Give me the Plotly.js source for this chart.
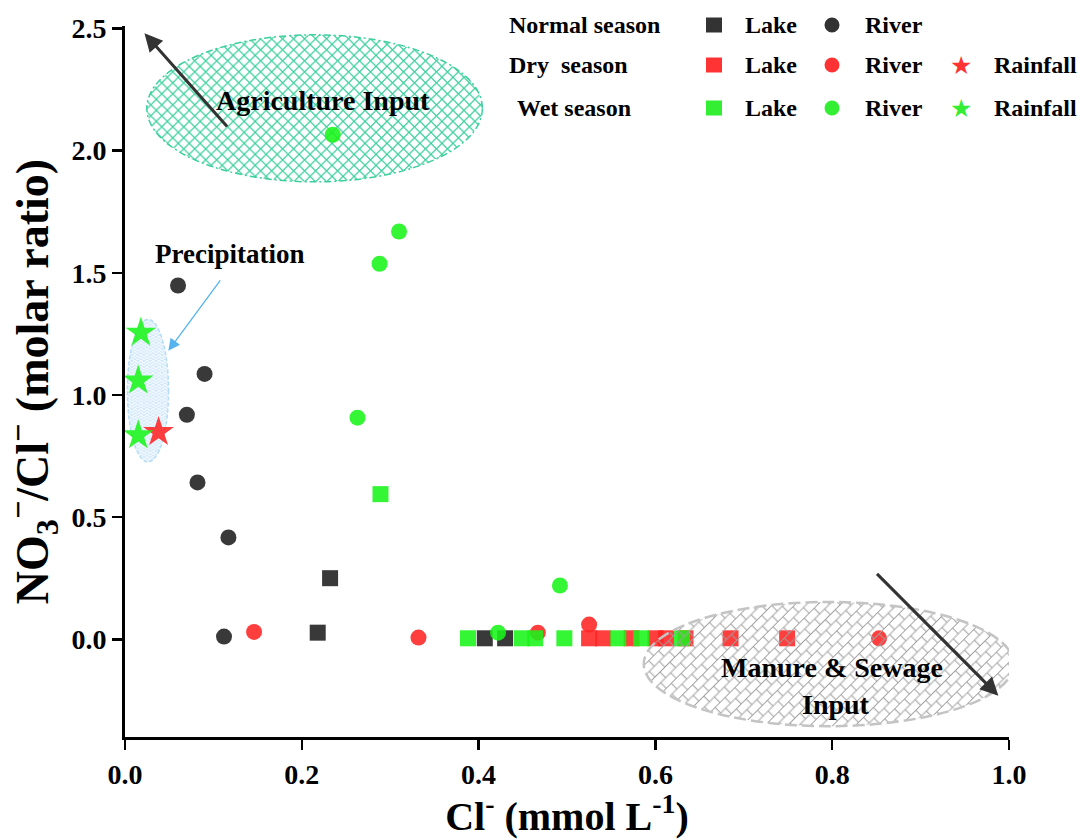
<!DOCTYPE html>
<html>
<head>
<meta charset="utf-8">
<script src="https://cdn.plot.ly/plotly-3.0.1.min.js"></script>
<style>html,body{margin:0;padding:0;background:#fff;}#chart{width:1086px;height:839px;}</style>
</head>
<body>
<div id="chart"></div>
<script>
// ---------------- data ----------------
const normalLakeX = [0.218, 0.232, 0.407, 0.430];
const normalLakeY = [0.027, 0.250, 0.004, 0.004];
const normalRiverX = [0.060, 0.070, 0.082, 0.090, 0.112, 0.117];
const normalRiverY = [1.448, 0.919, 0.642, 1.086, 0.011, 0.417];

const dryLakeX = [0.525, 0.541, 0.573, 0.600, 0.612, 0.634, 0.685, 0.749];
const dryLakeY = [0.004, 0.004, 0.004, 0.004, 0.004, 0.004, 0.004, 0.004];
const dryRiverX = [0.146, 0.332, 0.467, 0.525, 0.853];
const dryRiverY = [0.030, 0.007, 0.027, 0.060, 0.004];
const dryRainX = [0.038];
const dryRainY = [0.848];

const wetLakeX = [0.289, 0.388, 0.449, 0.464, 0.497, 0.558, 0.584, 0.630];
const wetLakeY = [0.594, 0.004, 0.004, 0.004, 0.004, 0.004, 0.004, 0.004];
const wetRiverX = [0.235, 0.263, 0.288, 0.310, 0.422, 0.492];
const wetRiverY = [2.065, 0.907, 1.537, 1.669, 0.027, 0.220];
const wetRainX = [0.018, 0.015, 0.015];
const wetRainY = [1.255, 1.059, 0.835];

const xTickVals = [0, 0.2, 0.4, 0.6, 0.8, 1.0];
const xTickText = ['0.0', '0.2', '0.4', '0.6', '0.8', '1.0'];
const yTickVals = [0, 0.5, 1.0, 1.5, 2.0, 2.5];
const yTickText = ['0.0', '0.5', '1.0', '1.5', '2.0', '2.5'];

const legendRows = ['Normal season', 'Dry\u00a0 season', 'Wet season'];

// ---------------- style ----------------
const FONT = 'Liberation Serif';
const C_DARK = 'rgba(40,40,40,0.92)';
const C_RED = 'rgba(255,35,35,0.88)';
const C_GREEN = 'rgba(25,245,25,0.88)';
const C_DARK_L = '#333333';
const C_RED_L = '#ff3333';
const C_GREEN_L = '#33ee33';

const W = 1086, H = 839;
const M = {l: 125, r: 77, t: 26, b: 102};
const XR = [0, 1.0], YR = [-0.40, 2.51];
const PW = W - M.l - M.r, PH = H - M.t - M.b;
const pxX = p => (p - M.l) / PW;          // pixel -> paper
const pxY = p => (H - M.b - p) / PH;
const dx2px = d => d / (XR[1] - XR[0]) * PW;
const dy2px = d => d / (YR[1] - YR[0]) * PH;

function sc(x, y, sym, size, color) {
  return {x: x, y: y, type: 'scatter', mode: 'markers', hoverinfo: 'skip', cliponaxis: false,
    marker: {symbol: sym, size: size, color: color, line: {width: 0}}, showlegend: false};
}
const traces = [
  sc(dryLakeX, dryLakeY, 'square', 16, C_RED),
  sc(dryRiverX, dryRiverY, 'circle', 16, C_RED),
  sc(normalLakeX, normalLakeY, 'square', 16, C_DARK),
  sc(normalRiverX, normalRiverY, 'circle', 16, C_DARK),
  sc(wetLakeX, wetLakeY, 'square', 16, C_GREEN),
  sc(wetRiverX, wetRiverY, 'circle', 16, C_GREEN),
  sc(dryRainX, dryRainY, 'star', 23, C_RED),
  sc(wetRainX, wetRainY, 'star', 23, C_GREEN)
];

// ---------------- decorative ellipses (SVG images) ----------------
function ellipseImage(x0, x1, y0, y1, patternSvg, stroke, strokeW, dash, layer) {
  const w = Math.round(dx2px(x1 - x0)), h = Math.round(dy2px(y1 - y0));
  const svg = "<svg xmlns='http://www.w3.org/2000/svg' width='" + w + "' height='" + h + "' viewBox='0 0 " + w + " " + h + "' preserveAspectRatio='none'>" +
    "<defs>" + patternSvg + "</defs>" +
    "<ellipse cx='" + w / 2 + "' cy='" + h / 2 + "' rx='" + (w / 2 - strokeW) + "' ry='" + (h / 2 - strokeW) + "' fill='url(#p)' stroke='" + stroke + "' stroke-width='" + strokeW + "' stroke-dasharray='" + dash + "'/></svg>";
  return {source: 'data:image/svg+xml;charset=utf-8,' + encodeURIComponent(svg),
    xref: 'x', yref: 'y', x: x0, y: y1, sizex: x1 - x0, sizey: y1 - y0,
    sizing: 'stretch', xanchor: 'left', yanchor: 'top', layer: layer, opacity: 1};
}
const agriPattern = "<pattern id='p' width='11' height='11' patternUnits='userSpaceOnUse'><path d='M0,0 L11,11 M11,0 L0,11' stroke='#3ccf9c' stroke-width='1.2' fill='none'/></pattern>";
const precPattern = "<pattern id='p' width='6' height='6' patternUnits='userSpaceOnUse'><rect width='6' height='6' fill='#cfe8fa'/><path d='M0,3 L3,0 L6,3 M0,6 L3,3 L6,6' stroke='#ffffff' stroke-width='1' fill='none'/></pattern>";
const manurePattern = "<pattern id='p' width='14' height='16' patternUnits='userSpaceOnUse' patternTransform='rotate(-45)'><path d='M0,0.5 H14 M0,8.5 H14 M4,0.5 V8.5 M11,8.5 V16.5' stroke='#a0a0a0' stroke-width='1' fill='none'/></pattern>";

const images = [
  ellipseImage(0.023, 0.406, 1.866, 2.480, agriPattern, '#3ccf9c', 1.5, '7,3,2,3', 'below'),
  ellipseImage(0.001, 0.051, 0.720, 1.315, precPattern, '#b5ddf6', 1.5, '4,2', 'below'),
  ellipseImage(0.584, 1.008, -0.366, 0.163, manurePattern, '#c4c4c4', 2.5, '12,5', 'above')
];

// ---------------- annotations ----------------
const ann = [];
function txt(x, y, text, size, xref, yref, xanchor) {
  return {x: x, y: y, xref: xref || 'x', yref: yref || 'y', text: text, showarrow: false,
    xanchor: xanchor || 'center', yanchor: 'middle',
    font: {family: FONT, size: size, color: '#000', weight: 'bold'}};
}
ann.push(txt(0.224, 2.205, 'Agriculture Input', 28));
ann.push(txt(0.1185, 1.576, 'Precipitation', 27));
ann.push(txt(0.800, -0.115, 'Manure & Sewage', 28));
ann.push(txt(0.804, -0.268, 'Input', 28));

function arrow(hx, hy, tx, ty, color, w, head, hs) {
  return {x: hx, y: hy, ax: tx, ay: ty, xref: 'x', yref: 'y', axref: 'x', ayref: 'y',
    showarrow: true, arrowhead: head, arrowsize: hs, arrowwidth: w, arrowcolor: color, text: ''};
}
ann.push(arrow(0.022, 2.480, 0.117, 2.093, '#333333', 3, 2, 1.2));
ann.push(arrow(0.988, -0.231, 0.849, 0.274, '#333333', 3, 2, 1.2));
ann.push(arrow(0.049, 1.181, 0.109, 1.475, '#55b4f0', 1.3, 2, 1.8));

// legend
const rowY = [25, 65, 108];
const rowX = [507, 507, 515];
const shapes = [];
const rowColors = [C_DARK_L, C_RED_L, C_GREEN_L];
for (let i = 0; i < 3; i++) {
  ann.push(txt(pxX(rowX[i]), pxY(rowY[i]), legendRows[i], 24, 'paper', 'paper', 'left'));
  shapes.push({type: 'rect', xref: 'paper', yref: 'paper', xsizemode: 'pixel', ysizemode: 'pixel',
    xanchor: pxX(714), yanchor: pxY(rowY[i]), x0: -8, x1: 8, y0: -7.5, y1: 7.5,
    fillcolor: rowColors[i], line: {width: 0}});
  ann.push(txt(pxX(743), pxY(rowY[i]), 'Lake', 24, 'paper', 'paper', 'left'));
  shapes.push({type: 'circle', xref: 'paper', yref: 'paper', xsizemode: 'pixel', ysizemode: 'pixel',
    xanchor: pxX(832), yanchor: pxY(rowY[i]), x0: -7.5, x1: 7.5, y0: -7.5, y1: 7.5,
    fillcolor: rowColors[i], line: {width: 0}});
  ann.push(txt(pxX(863), pxY(rowY[i]), 'River', 24, 'paper', 'paper', 'left'));
  if (i > 0) {
    ann.push({x: pxX(961), y: pxY(rowY[i]), xref: 'paper', yref: 'paper', text: '\u2605', showarrow: false,
      xanchor: 'center', yanchor: 'middle', font: {family: 'DejaVu Sans', size: 25, color: rowColors[i]}});
    ann.push(txt(pxX(992), pxY(rowY[i]), 'Rainfall', 24, 'paper', 'paper', 'left'));
  }
}

function axisBase() {
  return {
    showgrid: false, zeroline: false, showline: true, linecolor: '#000', linewidth: 3,
    ticks: 'outside', ticklen: 10, tickwidth: 2.5, tickcolor: '#000',
    tickfont: {family: FONT, size: 28, color: '#000', weight: 'bold'}
  };
}

const layout = {
  width: W, height: H, margin: M, paper_bgcolor: '#fff', plot_bgcolor: '#fff',
  showlegend: false,
  xaxis: Object.assign(axisBase(), {
    range: XR, tickmode: 'array', tickvals: xTickVals, ticktext: xTickText,
    title: {text: 'Cl<sup>-</sup> (mmol L<sup>-1</sup>)', standoff: 18,
      font: {family: FONT, size: 40, color: '#000', weight: 'bold'}}
  }),
  yaxis: Object.assign(axisBase(), {
    range: YR, tickmode: 'array', tickvals: yTickVals, ticktext: yTickText,
    title: {text: 'NO<sub>3</sub><sup>\u2212</sup>/Cl<sup>\u2212</sup> (molar ratio)', standoff: 14,
      font: {family: FONT, size: 46, color: '#000', weight: 'bold'}}
  }),
  images: images, annotations: ann, shapes: shapes
};

Plotly.newPlot('chart', traces, layout, {displayModeBar: false, staticPlot: true});
</script>
</body>
</html>
